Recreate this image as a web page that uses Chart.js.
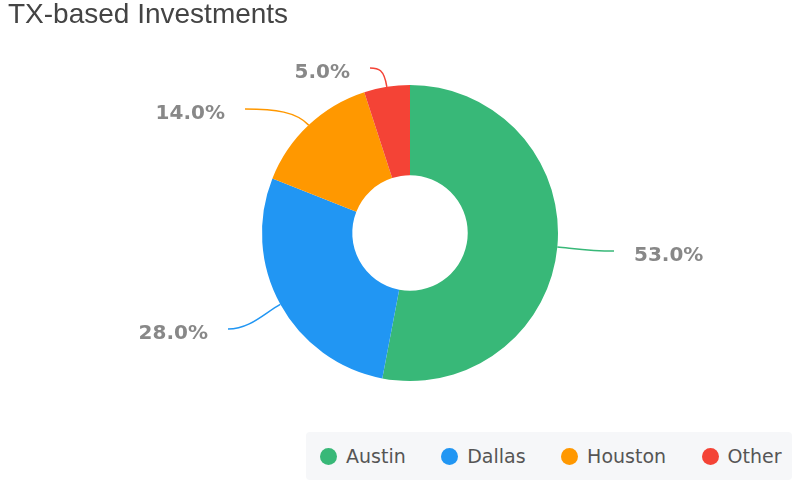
<!DOCTYPE html>
<html>
<head>
<meta charset="utf-8">
<script src="https://cdn.jsdelivr.net/npm/chart.js@4.4.1/dist/chart.umd.min.js"></script>
<style>
  html, body { margin: 0; padding: 0; background: #fff; }
  #wrap { position: relative; width: 800px; height: 486px; overflow: hidden; }
  #title { position: absolute; left: 8px; top: -2px; font: 28px "Liberation Sans", Arial, sans-serif; color: #444; }
  #legend { position: absolute; left: 306px; top: 432px; width: 486px; height: 48px; background: #f6f7f9;
    border-radius: 4px; display: flex; align-items: center; box-sizing: border-box; padding-left: 14px; }
  .item { display: flex; align-items: center; margin-right: 35.5px; font: 19px "DejaVu Sans", sans-serif; color: #555; }
  .dot { width: 17px; height: 17px; border-radius: 50%; margin-right: 9px; }
</style>
</head>
<body>
<div id="wrap">
  <div id="title">TX-based Investments</div>
  <canvas id="chart" width="800" height="486"></canvas>
  <div id="legend"></div>
</div>
<script>
const cities = ['Austin', 'Dallas', 'Houston', 'Other'];
const shares = [53, 28, 14, 5];
const colors = ['#38b878', '#2196f3', '#ff9800', '#f44336'];

// where each leader line ends, relative to the doughnut centre
const labelEnds = [[204, 18], [-182, 96], [-165, -124], [-40, -165]];

const legendEl = document.getElementById('legend');
cities.forEach((c, i) => {
  const it = document.createElement('div');
  it.className = 'item';
  it.innerHTML = `<span class="dot" style="background:${colors[i]}"></span>${c}`;
  legendEl.appendChild(it);
});

const outerLabels = {
  id: 'outerLabels',
  afterDatasetsDraw(chart) {
    const ctx = chart.ctx;
    const meta = chart.getDatasetMeta(0);
    meta.data.forEach((arc, i) => {
      const cx = arc.x, cy = arc.y, r = arc.outerRadius;
      const mid = (arc.startAngle + arc.endAngle) / 2;
      const p0 = [cx + Math.cos(mid) * r, cy + Math.sin(mid) * r];
      const p1 = [cx + Math.cos(mid) * (r + 18), cy + Math.sin(mid) * (r + 18)];
      const end = [cx + labelEnds[i][0], cy + labelEnds[i][1]];
      const dir = end[0] > cx ? 1 : -1;
      const span = Math.abs(end[0] - p1[0]);
      ctx.save();
      ctx.strokeStyle = colors[i];
      ctx.lineWidth = 1.5;
      ctx.beginPath();
      ctx.moveTo(p0[0], p0[1]);
      ctx.bezierCurveTo(p1[0], p1[1], end[0] - dir * span * 0.6, end[1], end[0], end[1]);
      ctx.stroke();
      ctx.fillStyle = '#888';
      ctx.font = 'bold 20px "DejaVu Sans", sans-serif';
      ctx.textBaseline = 'middle';
      ctx.textAlign = dir > 0 ? 'left' : 'right';
      ctx.fillText(shares[i].toFixed(1) + '%', end[0] + dir * 20, end[1] + 5);
      ctx.restore();
    });
  }
};

new Chart(document.getElementById('chart'), {
  type: 'doughnut',
  data: {
    labels: cities,
    datasets: [{ data: shares, backgroundColor: colors, borderWidth: 0 }]
  },
  options: {
    responsive: false,
    animation: false,
    cutout: '39%',
    layout: { padding: { top: 85, bottom: 105, left: 262, right: 242 } },
    plugins: { legend: { display: false }, tooltip: { enabled: false } }
  },
  plugins: [outerLabels]
});
</script>
</body>
</html>
